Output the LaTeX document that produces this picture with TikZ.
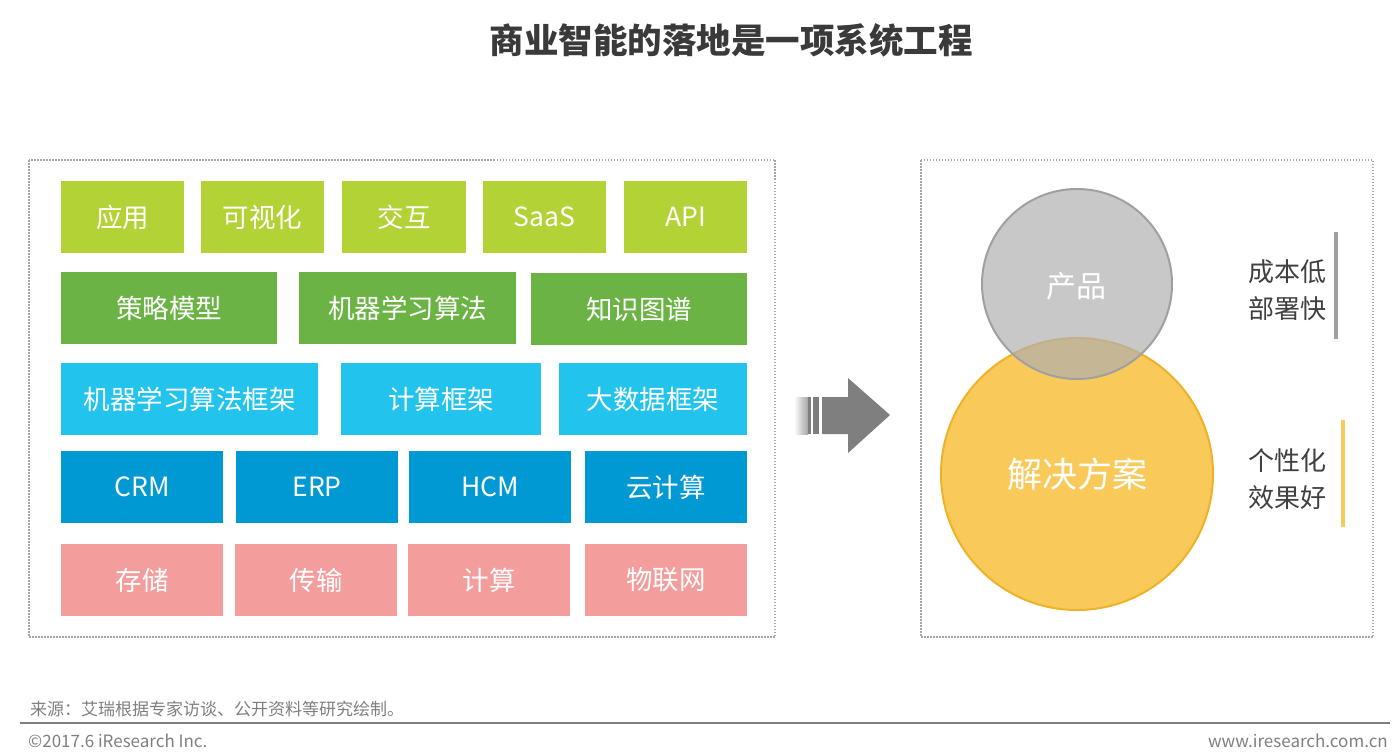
\documentclass[tikz,border=0pt]{standalone}
\usepackage{fontspec}
\setmainfont{Noto Sans CJK SC}
\newfontfamily\cjkfont{Noto Sans CJK SC}
\definecolor{cLime}{HTML}{B2D235}
\definecolor{cGreen}{HTML}{6AB344}
\definecolor{cCyan}{HTML}{22C4EE}
\definecolor{cBlue}{HTML}{0099D4}
\definecolor{cPink}{HTML}{F49D9D}
\definecolor{cTitle}{HTML}{3A3A3A}
\definecolor{cBorder}{HTML}{A6A6A6}
\definecolor{cArrow}{HTML}{7F7F7F}
\definecolor{cGrayFill}{HTML}{B0B0B0}
\definecolor{cGrayLine}{HTML}{A0A0A0}
\definecolor{cYellow}{HTML}{F9C95A}
\definecolor{cYellowLine}{HTML}{EDB228}
\definecolor{cText}{HTML}{404040}
\definecolor{cFoot}{HTML}{7F7F7F}
\tikzset{
  box/.style={rectangle, inner sep=0pt, minimum height=72pt, text=white, font=\fontsize{26.5}{29}\selectfont},
  panel/.style={draw=cBorder, line width=1.5pt, dash pattern=on 1.5pt off 1.5pt},
  sidetext/.style={text=cText, align=left, font=\fontsize{26}{37}\selectfont, inner sep=0pt},
  foot/.style={text=cFoot, inner sep=0pt, font=\fontsize{17}{20}\selectfont}
}
\begin{document}
\begin{tikzpicture}[x=1pt,y=-1pt]
\useasboundingbox (0,0) rectangle (1400,753);
% title
\node[text=cTitle, font=\fontsize{34.5}{37}\selectfont\bfseries] (title) at (731,40) {商业智能的落地是一项系统工程};
% panels
\draw[panel] (29,160) rectangle (775,637);
\draw[panel] (921,160) rectangle (1373,637);
% row 1
\node[box, fill=cLime, minimum width=123pt] (r1a) at (122.5,217) {应用};
\node[box, fill=cLime, minimum width=123pt] (r1b) at (262.5,217) {可视化};
\node[box, fill=cLime, minimum width=124pt] (r1c) at (404,217) {交互};
\node[box, fill=cLime, minimum width=123pt] (r1d) at (544.5,217) {SaaS};
\node[box, fill=cLime, minimum width=123pt] (r1e) at (685.5,217) {API};
% row 2
\node[box, fill=cGreen, minimum width=216pt] (r2a) at (169,308) {策略模型};
\node[box, fill=cGreen, minimum width=217pt] (r2b) at (407.5,308) {机器学习算法};
\node[box, fill=cGreen, minimum width=216pt] (r2c) at (639,309) {知识图谱};
% row 3
\node[box, fill=cCyan, minimum width=257pt] (r3a) at (189.5,399) {机器学习算法框架};
\node[box, fill=cCyan, minimum width=200pt] (r3b) at (441,399) {计算框架};
\node[box, fill=cCyan, minimum width=188pt] (r3c) at (653,399) {大数据框架};
% row 4
\node[box, fill=cBlue, minimum width=162pt] (r4a) at (142,487) {CRM};
\node[box, fill=cBlue, minimum width=162pt] (r4b) at (317,487) {ERP};
\node[box, fill=cBlue, minimum width=162pt] (r4c) at (490,487) {HCM};
\node[box, fill=cBlue, minimum width=162pt] (r4d) at (666,487) {云计算};
% row 5
\node[box, fill=cPink, minimum width=162pt] (r5a) at (142,580) {存储};
\node[box, fill=cPink, minimum width=162pt] (r5b) at (316,580) {传输};
\node[box, fill=cPink, minimum width=162pt] (r5c) at (489,580) {计算};
\node[box, fill=cPink, minimum width=162pt] (r5d) at (666,580) {物联网};
% arrow
\shade[left color=white, right color=cArrow!70] (794,397) rectangle (808,434);
\fill[cArrow] (808,397) rectangle (811,434);
\fill[cArrow] (813,397) rectangle (819,434);
\fill[cArrow] (822,397) -- (848,397) -- (848,378) -- (890,415) -- (848,453) -- (848,434) -- (822,434) -- cycle;
% circles
\node[circle, inner sep=0pt, minimum size=272pt, fill=cYellow, draw=cYellowLine, line width=2pt] (sol) at (1077,474) {};
\node[circle, inner sep=0pt, minimum size=190pt, fill=cGrayFill, fill opacity=0.7, draw=cGrayLine, draw opacity=1, line width=2pt, text opacity=1] (prod) at (1077,284) {};
\node[text=white, font=\fontsize{30}{32}\selectfont] (prodt) at (1076,286) {产品};
\node[text=white, font=\fontsize{35}{38}\selectfont] (solt) at (sol.center) {解决方案};
% side texts and bars
\node[sidetext, anchor=west] (t1) at (1248,290) {成本低\\部署快};
\fill[cGrayLine] (1334,232) rectangle (1338,339);
\node[sidetext, anchor=west] (t2) at (1248,479) {个性化\\效果好};
\fill[cYellow] (1341,420) rectangle (1345,527);
% footer
\node[foot, anchor=west] (src) at (30,709) {来源：艾瑞根据专家访谈、公开资料等研究绘制。};
\draw[cFoot, line width=2pt] (20,723) -- (1390,723);
\node[foot, anchor=west] (copy) at (28,741) {©2017.6 iResearch Inc.};
\node[foot, anchor=east] (web) at (1388,741) {www.iresearch.com.cn};
\end{tikzpicture}
\end{document}
